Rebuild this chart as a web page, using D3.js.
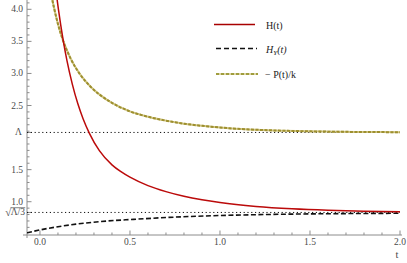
<!DOCTYPE html>
<meta charset="utf-8">

<script src="https://d3js.org/d3.v7.min.js"></script>

<style type="text/css">

body {
  margin: 0;
  background: white;
}

svg {
  display: block;
}

.axis line, .axis path {
  stroke: #8c8c8c;
  stroke-width: 1px;
}

.tickLabel {
  font-family: "Liberation Serif", "Times New Roman", "DejaVu Serif", serif;
  font-size: 9.5px;
  fill: #4a4a4a;
}

.legend text {
  font-family: "Liberation Serif", "Times New Roman", "DejaVu Serif", serif;
  font-size: 10px;
  fill: #222;
}

</style>

<body>
</body>

<script>

// H(t)
var hT = [0.09, 0.103, 0.115, 0.13, 0.15, 0.18, 0.21, 0.24, 0.274, 0.33, 0.4, 0.45, 0.5, 0.6, 0.7, 0.8, 0.9, 1.0, 1.2, 1.4, 1.6, 1.8, 2.0];
var hV = [4.26, 3.99, 3.76, 3.5, 3.2, 2.83, 2.53, 2.29, 2.07, 1.796, 1.575, 1.468, 1.382, 1.251, 1.157, 1.084, 1.029, 0.986, 0.926, 0.889, 0.866, 0.852, 0.843];

// H_Y(t)
var hyT = [-0.072, 0.0, 0.1, 0.2, 0.333, 0.52, 0.75, 1.0, 1.25, 1.5, 1.75, 2.0];
var hyV = [0.515, 0.56, 0.61, 0.65, 0.69, 0.725, 0.76, 0.785, 0.8, 0.81, 0.816, 0.82];

// -P(t)/k
var pT = [0.06, 0.07, 0.08, 0.1, 0.13, 0.17, 0.222, 0.28, 0.333, 0.4, 0.5, 0.6, 0.7, 0.8, 0.9, 1.05, 1.2, 1.35, 1.5, 1.75, 2.0];
var pV = [4.28, 4.13, 4.0, 3.77, 3.5, 3.235, 2.989, 2.797, 2.666, 2.541, 2.408, 2.325, 2.264, 2.217, 2.183, 2.146, 2.122, 2.107, 2.097, 2.088, 2.084];

// reference levels
var lambda = 2.08;
var sqrtLambda3 = 0.8327;

// ticks
var xMajor = [0, 0.5, 1.0, 1.5, 2.0];
var xLabels = ["0.0", "0.5", "1.0", "1.5", "2.0"];
var yMajor = [1.0, 1.5, 2.5, 3.0, 3.5, 4.0];
var yLabels = ["1.0", "1.5", "2.5", "3.0", "3.5", "4.0"];
var xMinor = [0.1, 0.2, 0.3, 0.4, 0.6, 0.7, 0.8, 0.9, 1.1, 1.2, 1.3, 1.4, 1.6, 1.7, 1.8, 1.9];
var yMinor = [0.6, 0.7, 0.8, 0.9, 1.1, 1.2, 1.3, 1.4, 1.6, 1.7, 1.8, 1.9, 2.0, 2.1, 2.2, 2.3, 2.4,
              2.6, 2.7, 2.8, 2.9, 3.1, 3.2, 3.3, 3.4, 3.6, 3.7, 3.8, 3.9, 4.1];

var legendNames = ["H(t)", "H_Y(t)", "\u2212 P(t)/k"];

var width = 407, height = 263;

var svg = d3.select("body").append("svg")
    .attr("width", width)
    .attr("height", height);

// scales
var xScale = d3.scaleLinear()
  .domain([-0.072, 2.0])
  .range([27, 400]);

var yScale = d3.scaleLinear()
  .domain([0.481, 4.145])
  .range([235, 0]);

var x0 = xScale.range()[0], y0 = yScale.range()[0];

svg.append("clipPath").attr("id", "plotClip")
  .append("rect")
    .attr("x", x0).attr("y", 0)
    .attr("width", width - x0).attr("height", y0);

// axes (ticks pointing into the plot)
var xAxis = svg.append("g").attr("class", "axis");
xAxis.append("line")
  .attr("x1", x0 - 4).attr("x2", 402)
  .attr("y1", y0).attr("y2", y0);
xAxis.selectAll(".major").data(xMajor).enter().append("line")
  .attr("x1", function(d) { return xScale(d); })
  .attr("x2", function(d) { return xScale(d); })
  .attr("y1", y0).attr("y2", y0 - 4.5);
xAxis.selectAll(".minor").data(xMinor).enter().append("line")
  .attr("x1", function(d) { return xScale(d); })
  .attr("x2", function(d) { return xScale(d); })
  .attr("y1", y0).attr("y2", y0 - 2.5);

var yAxis = svg.append("g").attr("class", "axis");
yAxis.append("line")
  .attr("x1", x0).attr("x2", x0)
  .attr("y1", 0).attr("y2", y0 + 3);
yAxis.selectAll(".major").data(yMajor.concat([lambda, sqrtLambda3])).enter().append("line")
  .attr("x1", x0).attr("x2", x0 + 4.5)
  .attr("y1", function(d) { return yScale(d); })
  .attr("y2", function(d) { return yScale(d); });
yAxis.selectAll(".minor").data(yMinor).enter().append("line")
  .attr("x1", x0).attr("x2", x0 + 2.5)
  .attr("y1", function(d) { return yScale(d); })
  .attr("y2", function(d) { return yScale(d); });

// tick labels
svg.selectAll(".xl").data(xMajor).enter().append("text")
  .attr("class", "tickLabel")
  .attr("x", function(d) { return xScale(d); })
  .attr("y", y0 + 10)
  .attr("text-anchor", "middle")
  .text(function(d, i) { return xLabels[i]; });

svg.selectAll(".yl").data(yMajor).enter().append("text")
  .attr("class", "tickLabel")
  .attr("x", x0 - 4)
  .attr("y", function(d) { return yScale(d) + 3; })
  .attr("text-anchor", "end")
  .text(function(d, i) { return yLabels[i]; });

svg.append("text")
  .attr("class", "tickLabel")
  .attr("x", x0 - 5)
  .attr("y", yScale(lambda) + 3)
  .attr("text-anchor", "end")
  .text("\u039B");

// sqrt(Lambda/3) label with a drawn overline
var radicand = svg.append("text")
  .attr("class", "tickLabel")
  .attr("x", x0 - 2)
  .attr("y", yScale(sqrtLambda3) + 3)
  .attr("text-anchor", "end")
  .text("\u039B/3");
var rb = radicand.node().getBBox();
svg.append("text")
  .attr("class", "tickLabel")
  .attr("x", rb.x + 0.5)
  .attr("y", yScale(sqrtLambda3) + 4)
  .attr("text-anchor", "end")
  .style("font-size", "11px")
  .text("\u221A");
svg.append("line")
  .attr("x1", rb.x).attr("x2", rb.x + rb.width)
  .attr("y1", rb.y + 0.3).attr("y2", rb.y + 0.3)
  .style("stroke", "#4a4a4a").style("stroke-width", 0.7);

svg.append("text")
  .attr("class", "tickLabel")
  .attr("x", 397)
  .attr("y", 258)
  .attr("text-anchor", "middle")
  .style("font-size", "10.5px")
  .text("t");

// dotted reference lines
svg.selectAll(".ref").data([lambda, sqrtLambda3]).enter().append("line")
  .attr("x1", x0).attr("x2", xScale(2.0))
  .attr("y1", function(d) { return yScale(d); })
  .attr("y2", function(d) { return yScale(d); })
  .style("stroke", "#111")
  .style("stroke-width", 1)
  .style("stroke-dasharray", "1.2,2.6");

// curves
function toPoints(ts, vs) {
  return ts.map(function(t, i) { return [t, vs[i]]; });
}

var line = d3.line()
  .x(function(d) { return xScale(d[0]); })
  .y(function(d) { return yScale(d[1]); })
  .curve(d3.curveMonotoneX);

var plot = svg.append("g").attr("clip-path", "url(#plotClip)");

plot.append("path")
  .datum(toPoints(pT, pV))
  .attr("d", line)
  .style("fill", "none")
  .style("stroke", "#d2c786")
  .style("stroke-width", 2);
plot.append("path")
  .datum(toPoints(pT, pV))
  .attr("d", line)
  .style("fill", "none")
  .style("stroke", "#9d8f2f")
  .style("stroke-width", 2)
  .style("stroke-dasharray", "3,1.5");

plot.append("path")
  .datum(toPoints(hyT, hyV))
  .attr("d", line)
  .style("fill", "none")
  .style("stroke", "#111")
  .style("stroke-width", 1.6)
  .style("stroke-dasharray", "5,2.5");

plot.append("path")
  .datum(toPoints(hT, hV))
  .attr("d", line)
  .style("fill", "none")
  .style("stroke", "#bb0a0a")
  .style("stroke-width", 1.5);

// legend
var legend = svg.append("g").attr("class", "legend");
var legY = [24.5, 48.5, 74];

legend.append("line")
  .attr("x1", 214).attr("x2", 255).attr("y1", legY[0]).attr("y2", legY[0])
  .style("stroke", "#a80000").style("stroke-width", 1.5);
legend.append("line")
  .attr("x1", 216).attr("x2", 257).attr("y1", legY[1]).attr("y2", legY[1])
  .style("stroke", "#111").style("stroke-width", 1.5)
  .style("stroke-dasharray", "5,3");
legend.append("line")
  .attr("x1", 216).attr("x2", 258).attr("y1", legY[2]).attr("y2", legY[2])
  .style("stroke", "#d2c786").style("stroke-width", 1.5);
legend.append("line")
  .attr("x1", 216).attr("x2", 258).attr("y1", legY[2]).attr("y2", legY[2])
  .style("stroke", "#8c8a1c").style("stroke-width", 1.5)
  .style("stroke-dasharray", "3,2");

legend.append("text")
  .attr("x", 266).attr("y", legY[0] + 4)
  .text(legendNames[0]);

var hy = legend.append("text")
  .attr("x", 266).attr("y", legY[1] + 4)
  .style("font-style", "italic");
hy.append("tspan").text("H");
hy.append("tspan").attr("dy", 2).style("font-size", "7px").text("Y");
hy.append("tspan").attr("dy", -2).text("(t)");

legend.append("text")
  .attr("x", 265).attr("y", legY[2] + 4)
  .text(legendNames[2]);

</script>
